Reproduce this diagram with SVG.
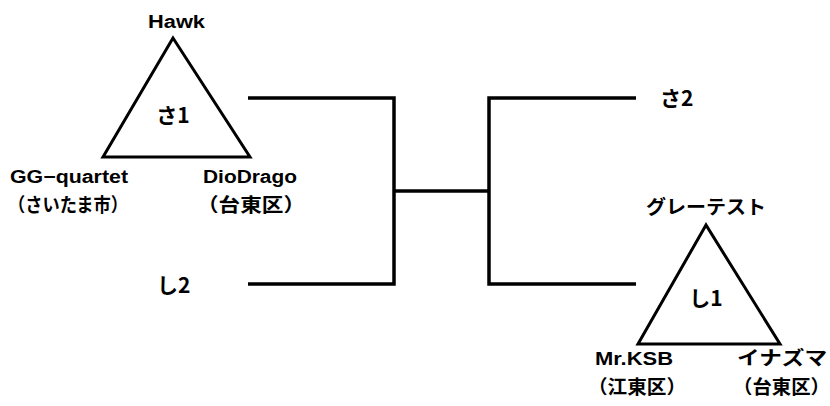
<svg xmlns="http://www.w3.org/2000/svg" width="830" height="406" viewBox="0 0 830 406">
<style>
.t{font-family:"Liberation Sans","Noto Sans CJK JP",sans-serif;font-weight:bold;fill:#000}
.s{font-size:18px}
.j{font-size:19px}
.b{font-size:21px;font-family:"Noto Sans CJK JP",sans-serif;font-weight:bold}
.tri{fill:none;stroke:#000;stroke-width:3;stroke-linejoin:miter}
.ln{fill:none;stroke:#000;stroke-width:3.5}
</style>
<rect width="830" height="406" fill="#fff"/>
<g id="connectors">
<polyline class="ln" points="248,98 394,98 394,284 248,284"/>
<line class="ln" x1="394" y1="191" x2="489" y2="191"/>
<polyline class="ln" points="636,98 489,98 489,284 636,284"/>
</g>
<g id="group-sa1">
<polygon class="tri" points="173,38 103,157 250,157"/>
<text class="t s" x="148" y="28" textLength="57" lengthAdjust="spacingAndGlyphs">Hawk</text>
<text class="t b" x="173" y="123" text-anchor="middle">さ1</text>
<text class="t s" x="10" y="183" textLength="118" lengthAdjust="spacingAndGlyphs">GG−quartet</text>
<text class="t j" x="8" y="212" textLength="120" lengthAdjust="spacingAndGlyphs">（さいたま市）</text>
<text class="t s" x="203" y="183" textLength="94" lengthAdjust="spacingAndGlyphs">DioDrago</text>
<text class="t j" x="197" y="212" textLength="108" lengthAdjust="spacingAndGlyphs">（台東区）</text>
</g>
<g id="node-sa2">
<text class="t b" x="660" y="106">さ2</text>
</g>
<g id="node-shi2">
<text class="t b" x="157" y="293">し2</text>
</g>
<g id="group-shi1">
<polygon class="tri" points="706,225 638,344 780,344"/>
<text class="t j" x="646" y="214" textLength="120" lengthAdjust="spacingAndGlyphs">グレーテスト</text>
<text class="t b" x="706" y="306" text-anchor="middle">し1</text>
<text class="t s" x="595" y="365" textLength="78" lengthAdjust="spacingAndGlyphs">Mr.KSB</text>
<text class="t j" x="588" y="394" textLength="98" lengthAdjust="spacingAndGlyphs">（江東区）</text>
<text class="t j" x="737" y="365" textLength="90" lengthAdjust="spacingAndGlyphs">イナズマ</text>
<text class="t j" x="733" y="394" textLength="97" lengthAdjust="spacingAndGlyphs">（台東区）</text>
</g>
</svg>
